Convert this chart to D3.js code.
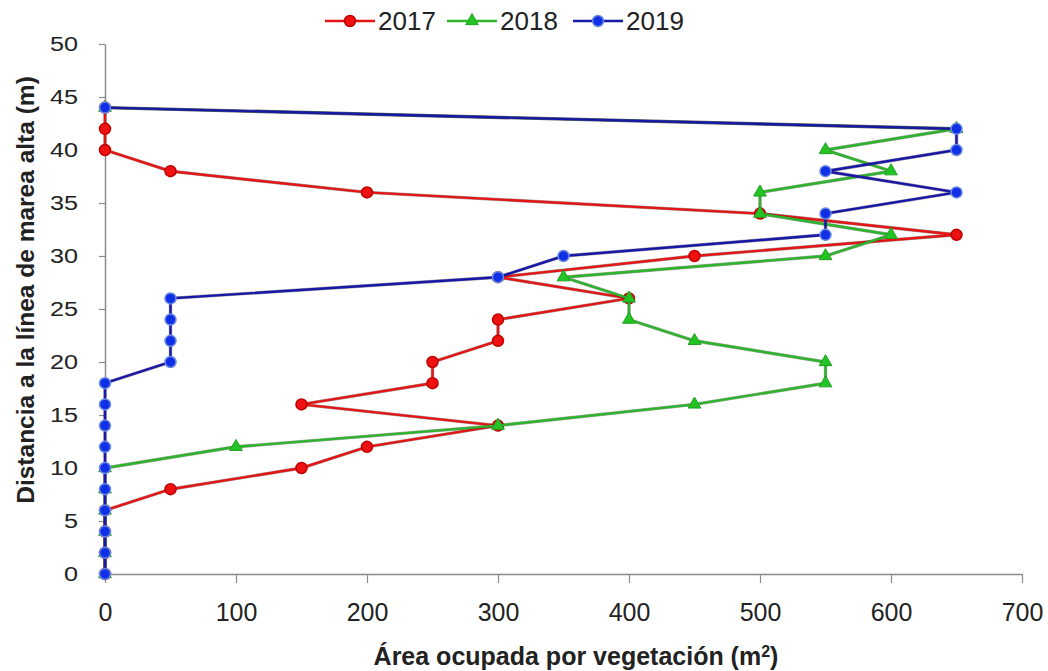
<!DOCTYPE html>
<html><head><meta charset="utf-8">
<script src="https://cdn.jsdelivr.net/npm/d3@7/dist/d3.min.js"></script>
<style>body{margin:0;background:#fff}svg{display:block}text{font-family:"Liberation Sans",Arial,sans-serif}</style>
</head><body><svg id="c" width="1048" height="671"></svg>
<script>
const distances = [0,2,4,6,8,10,12,14,16,18,20,22,24,26,28,30,32,34,36,38,40,42,44];
const area2017 = [0,0,0,0,50,150,200,300,150,250,250,300,300,400,300,450,650,500,200,50,0,0,0];
const area2018 = [0,0,0,0,0,0,100,300,450,550,550,450,400,400,350,550,600,500,500,600,550,650,0];
const area2019 = [0,0,0,0,0,0,0,0,0,0,50,50,50,50,300,350,550,550,650,550,650,650,0];
const xTicks = [0,100,200,300,400,500,600,700];
const yTicks = [0,5,10,15,20,25,30,35,40,45,50];
const seriesNames = ["2017","2018","2019"];

const svg = d3.select("#c");
const x = d3.scaleLinear().domain([0,700]).range([105,1022]);
const y = d3.scaleLinear().domain([0,50]).range([574,44]);

const xAxis = svg.append("g").attr("transform","translate(0,574)")
  .call(d3.axisBottom(x).tickValues(xTicks).tickSize(9).tickSizeOuter(0).tickPadding(20));
const yAxis = svg.append("g").attr("transform","translate(105,0)")
  .call(d3.axisLeft(y).tickValues(yTicks).tickSize(6).tickSizeOuter(0).tickPadding(0));
[xAxis,yAxis].forEach(a=>{
  a.attr("font-family",null).attr("font-size",null);
  a.select(".domain").attr("stroke","#8c8c8c").attr("stroke-width",1.5);
  a.selectAll(".tick line").attr("stroke","#8c8c8c").attr("stroke-width",1.2);
  a.selectAll(".tick text").attr("fill","#222");
});
xAxis.selectAll(".tick text").style("font-size","25px");
yAxis.selectAll(".tick text").style("font-size","21px").attr("x",-22.5).attr("transform","scale(1.2,1)");

svg.append("text").attr("x",576).attr("y",665).attr("text-anchor","middle")
  .style("font-size","25px").attr("font-weight","bold").attr("fill","#222")
  .html('Área ocupada por vegetación (m<tspan baseline-shift="super" font-size="16">2</tspan>)');
svg.append("text").attr("transform","translate(34,290) rotate(-90)").attr("text-anchor","middle")
  .style("font-size","24.5px").attr("font-weight","bold").attr("fill","#222")
  .text("Distancia a la línea de marea alta (m)");

const series = [
  {name:seriesNames[0], vals:area2017, line:"#e31515", fill:"#ee1111", stroke:"#c00000", shape:"circle"},
  {name:seriesNames[1], vals:area2018, line:"#2cb52c", fill:"#22c322", stroke:"#22a022", shape:"tri"},
  {name:seriesNames[2], vals:area2019, line:"#1818a8", fill:"#1030e8", stroke:"#6a8ae0", shape:"circle"}
];
const line = d3.line().x(d=>x(d[0])).y(d=>y(d[1]));
const triangle = d3.symbol().type(d3.symbolTriangle).size(70);

function marker(g, s, cx, cy){
  if(s.shape==="circle"){
    g.append("circle").attr("cx",cx).attr("cy",cy).attr("r",5.5)
      .attr("fill",s.fill).attr("stroke",s.stroke).attr("stroke-width",1.5);
  } else {
    g.append("path").attr("d",triangle()).attr("transform",`translate(${cx},${cy})`)
      .attr("fill",s.fill).attr("stroke",s.stroke).attr("stroke-width",1);
  }
}

series.forEach(s=>{
  const pts = s.vals.map((v,i)=>[v,distances[i]]);
  const g = svg.append("g");
  g.append("path").attr("d",line(pts)).attr("fill","none").attr("stroke","#302020").attr("stroke-width",3.4).attr("opacity",0.4);
  g.append("path").attr("d",line(pts)).attr("fill","none").attr("stroke",s.line).attr("stroke-width",2.4);
  pts.forEach(p=>marker(g,s,x(p[0]),y(p[1])));
});

// legend
const legX = [325,447,573];
series.forEach((s,i)=>{
  const g = svg.append("g");
  const lx = legX[i];
  g.append("line").attr("x1",lx).attr("x2",lx+50).attr("y1",21).attr("y2",21)
    .attr("stroke",s.line).attr("stroke-width",2.5);
  marker(g,s,lx+25,21);
  g.append("text").attr("x",lx+53).attr("y",30).style("font-size","26px").attr("fill","#222").text(s.name);
});
</script></body></html>
